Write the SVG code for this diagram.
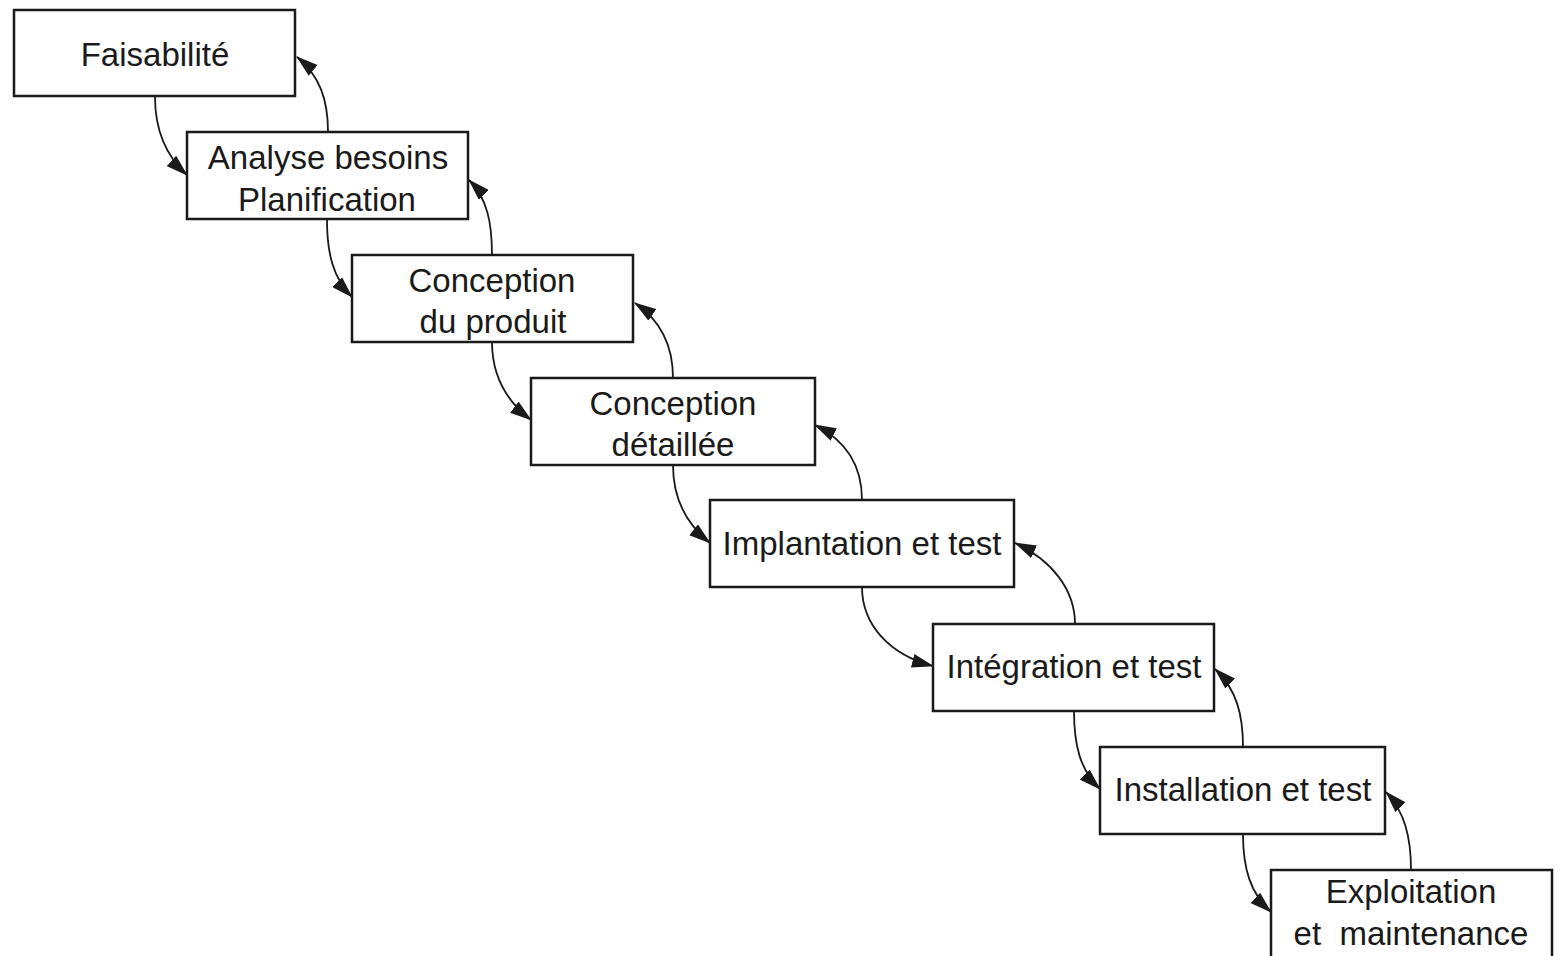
<svg xmlns="http://www.w3.org/2000/svg" width="1562" height="956" viewBox="0 0 1562 956">
  <style>
    .box { fill: #ffffff; stroke: #1a1a1a; stroke-width: 2.5; }
    .lbl { font-family: "Liberation Sans", Arial, sans-serif; font-size: 33px; fill: #1a1a1a; text-anchor: middle; white-space: pre; }
    .link { fill: none; stroke: #1a1a1a; stroke-width: 1.8; marker-end: url(#head); }
  </style>
  <defs>
    <marker id="head" markerUnits="userSpaceOnUse" markerWidth="22" markerHeight="14" viewBox="0 0 22 14" refX="21" refY="7" orient="auto">
      <path d="M0,0 L22,7 L0,14 Z" fill="#1a1a1a"/>
    </marker>
  </defs>
  <rect width="1562" height="956" fill="#ffffff"/>

  <!-- connectors: forward (down) and feedback (up) between successive phases -->
  <g id="connectors">
    <path class="link" d="M155,97 C155,130 165,155 187,175"/>
    <path class="link" d="M328,132 C328,100 320,76 297,57"/>

    <path class="link" d="M327,220 C327,253 333,278 352,297"/>
    <path class="link" d="M492,255 C492,222 487,198 469,180"/>

    <path class="link" d="M492,342 C492,375 505,400 531,420"/>
    <path class="link" d="M673,378 C673,345 660,320 635,303"/>

    <path class="link" d="M673,465 C673,498 685,523 710,543"/>
    <path class="link" d="M862,500 C862,465 845,440 815,425"/>

    <path class="link" d="M862,587 C862,625 890,655 933,666"/>
    <path class="link" d="M1075,624 C1075,590 1052,560 1015,543"/>

    <path class="link" d="M1074,711 C1074,745 1080,770 1100,789"/>
    <path class="link" d="M1243,747 C1243,715 1237,690 1215,669"/>

    <path class="link" d="M1243,834 C1243,868 1250,893 1271,912"/>
    <path class="link" d="M1411,870 C1411,838 1405,812 1386,792"/>
  </g>

  <g id="faisabilite">
    <rect class="box" x="14" y="10" width="281" height="86"/>
    <text class="lbl" x="155" y="66">Faisabilité</text>
  </g>
  <g id="analyse">
    <rect class="box" x="187" y="132" width="281" height="87"/>
    <text class="lbl" x="328" y="169">Analyse besoins</text>
    <text class="lbl" x="327" y="211">Planification</text>
  </g>
  <g id="conception-produit">
    <rect class="box" x="352" y="255" width="281" height="87"/>
    <text class="lbl" x="492" y="292">Conception</text>
    <text class="lbl" x="493" y="333">du produit</text>
  </g>
  <g id="conception-detaillee">
    <rect class="box" x="531" y="378" width="284" height="87"/>
    <text class="lbl" x="673" y="415">Conception</text>
    <text class="lbl" x="673" y="456">détaillée</text>
  </g>
  <g id="implantation">
    <rect class="box" x="710" y="500" width="304" height="87"/>
    <text class="lbl" x="862" y="555">Implantation et test</text>
  </g>
  <g id="integration">
    <rect class="box" x="933" y="624" width="281" height="87"/>
    <text class="lbl" x="1074" y="678">Intégration et test</text>
  </g>
  <g id="installation">
    <rect class="box" x="1100" y="747" width="285" height="87"/>
    <text class="lbl" x="1243" y="801">Installation et test</text>
  </g>
  <g id="exploitation">
    <rect class="box" x="1271" y="870" width="281" height="100"/>
    <text class="lbl" x="1411" y="903">Exploitation</text>
    <text class="lbl" x="1411" y="945">et  maintenance</text>
  </g>
</svg>
